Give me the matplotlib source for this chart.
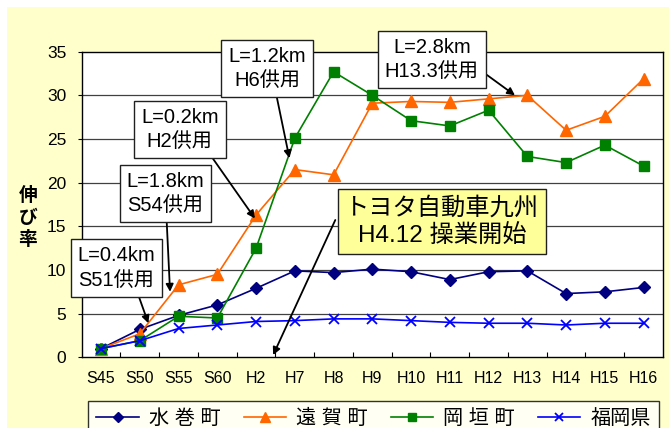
import matplotlib
matplotlib.use('Agg')
import matplotlib.pyplot as plt
from matplotlib.patches import Rectangle
import numpy as np

plt.rcParams['font.family'] = ['Liberation Sans', 'Noto Sans CJK JP']

# 年次
nen = ['S45', 'S50', 'S55', 'S60', 'H2', 'H7', 'H8', 'H9', 'H10',
       'H11', 'H12', 'H13', 'H14', 'H15', 'H16']

# 伸び率（S45 = 1）
mizumaki = [1.0, 3.2, 4.8, 6.0, 7.9, 9.9, 9.7, 10.1, 9.8, 8.9, 9.8, 9.9, 7.3, 7.5, 8.0]
onga = [1.0, 2.7, 8.3, 9.5, 16.3, 21.5, 20.9, 29.1, 29.3, 29.2, 29.6, 30.0, 26.0, 27.6, 31.9]
okagaki = [1.0, 1.9, 4.7, 4.5, 12.5, 25.1, 32.7, 30.0, 27.1, 26.5, 28.3, 23.0, 22.3, 24.3, 21.9]
fukuoka = [1.0, 1.9, 3.3, 3.7, 4.1, 4.2, 4.4, 4.4, 4.2, 4.0, 3.9, 3.9, 3.7, 3.9, 3.9]

W, H = 669, 428
fig = plt.figure(figsize=(W / 100, H / 100), dpi=100, facecolor='white')


def fp(x, y):
    # 左上原点のピクセル -> figure fraction
    return x / W, 1 - y / H


# 背景の薄い黄色
fig.patches.append(Rectangle(fp(7, H), 1, 1 - 7 / H, transform=fig.transFigure,
                             facecolor='#FFFFCC', edgecolor='none', zorder=-10))

ax = fig.add_axes([81.7 / W, (H - 357.3) / H, 581.3 / W, 305.6 / H])
ax.set_facecolor('white')

x = np.arange(len(nen))
ax.plot(x, mizumaki, color='#000080', lw=1.2, marker='D', ms=6, label='水 巻 町')
ax.plot(x, onga, color='#FF6600', lw=1.2, marker='^', ms=8, label='遠 賀 町')
ax.plot(x, okagaki, color='#008000', lw=1.2, marker='s', ms=6.5, label='岡 垣 町')
ax.plot(x, fukuoka, color='#0000FF', lw=1.2, marker='x', ms=7, mew=1.3, label='福岡県')

ax.set_xlim(-0.5, len(nen) - 0.5)
ax.set_ylim(0, 35)
ax.set_yticks(range(0, 36, 5))
ax.set_xticks(x)
ax.set_xticklabels(nen, fontsize=11.5)
ax.set_xticks(np.arange(0.5, len(nen) - 1, 1), minor=True)
ax.tick_params(axis='x', which='major', length=0, pad=10)
ax.tick_params(axis='x', which='minor', direction='in', length=3.6, width=0.8)
ax.tick_params(axis='y', labelsize=12.5, length=3, pad=8, width=0.8)
for v in range(5, 35, 5):
    ax.axhline(v, color='#404040', lw=0.9, zorder=0)
for s in ax.spines.values():
    s.set_color('black')
    s.set_linewidth(1.0)

fig.text(*fp(28, 218), '伸\nび\n率', fontsize=13.5, fontweight='bold',
         ha='center', va='center', linespacing=1.3)

# 道路供用の注記
chuki = [
    ('L=0.4km\nS51供用', (116.5, 268), (139, 297), (1.22, 3.9)),
    ('L=1.8km\nS54供用', (165.5, 193.3), (166.7, 221.7), (1.78, 7.5)),
    ('L=0.2km\nH2供用', (179.8, 129.5), (212.7, 158.3), (3.97, 15.9)),
    ('L=1.2km\nH6供用', (267.2, 68.5), (276.7, 96.7), (4.86, 22.8)),
    ('L=2.8km\nH13.3供用', (431.8, 59.5), (487, 75), (10.68, 30.0)),
]
for txt, c, start, tgt in chuki:
    fig.text(*fp(*c), txt, fontsize=14.5, ha='center', va='center', linespacing=1.35,
             bbox=dict(boxstyle='square,pad=0.35', facecolor='white',
                       edgecolor='#202020', lw=1.0), zorder=5)
    ax.annotate('', xy=tgt, xycoords='data', xytext=fp(*start),
                textcoords='figure fraction',
                arrowprops=dict(arrowstyle='-|>', color='black', lw=1.3,
                                mutation_scale=11, shrinkA=0, shrinkB=0))

fig.text(*fp(442, 221.5), 'トヨタ自動車九州\nH4.12 操業開始', fontsize=17.5,
         ha='center', va='center', linespacing=1.25,
         bbox=dict(boxstyle='square,pad=0.3', facecolor='#FFFF99',
                   edgecolor='#202020', lw=1.0), zorder=5)
ax.annotate('', xy=(4.44, 0.26), xycoords='data', xytext=fp(335.3, 220),
            textcoords='figure fraction',
            arrowprops=dict(arrowstyle='-|>', color='black', lw=1.3,
                            mutation_scale=11, shrinkA=0, shrinkB=0))

leg = fig.legend(loc='upper left', bbox_to_anchor=fp(88.3, 401), ncol=4,
                 fontsize=14.5, frameon=True, fancybox=False, handlelength=2.1,
                 handletextpad=0.5, columnspacing=1.15, borderpad=0.4,
                 borderaxespad=0, markerscale=0.85)
leg.get_frame().set_edgecolor('black')
leg.get_frame().set_linewidth(1.0)

fig.savefig('out.png', dpi=100, facecolor=fig.get_facecolor())
